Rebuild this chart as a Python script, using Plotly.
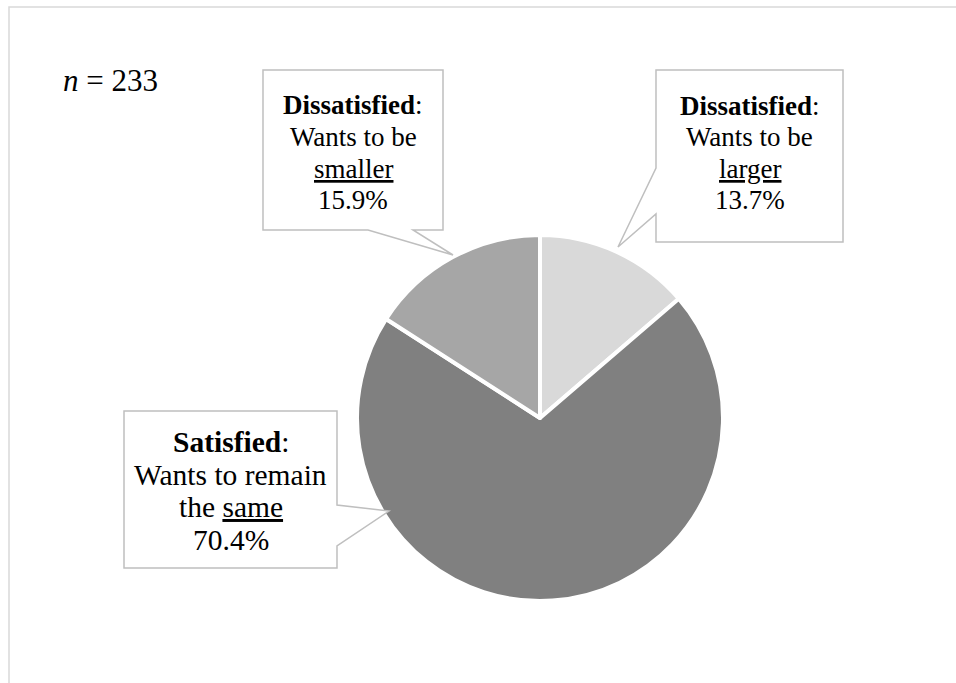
import plotly.graph_objects as go

W, H = 956, 683

# ---- data ----
labels = ["Wants to be larger", "Wants to remain the same", "Wants to be smaller"]
values = [13.7, 70.4, 15.9]
colors = ["#d9d9d9", "#808080", "#a6a6a6"]
n_total = 233

callout_larger = ["<b>Dissatisfied</b>:", "Wants to be", "<u>larger</u>", "13.7%"]
callout_smaller = ["<b>Dissatisfied</b>:", "Wants to be", "<u>smaller</u>", "15.9%"]
callout_same = ["<b>Satisfied</b>:", "Wants to remain", "the <u>same</u>", "70.4%"]


def X(px):
    return px / W


def Y(py):
    return 1 - py / H


FONT = "Liberation Serif"

fig = go.Figure()

# pie geometry (pixels)
cx, cy, r = 540, 418, 183
fig.add_trace(go.Pie(
    labels=labels, values=values, sort=False, direction="clockwise", rotation=0,
    marker=dict(colors=colors, line=dict(color="white", width=4)),
    textinfo="none", hoverinfo="label+percent", showlegend=False,
    domain=dict(x=[X(cx - r), X(cx + r)], y=[Y(cy + r), Y(cy - r)]),
))

shapes = []
# outer chart frame
shapes.append(dict(type="rect", xref="paper", yref="paper",
                   x0=X(9), y0=Y(7), x1=X(W + 20), y1=Y(H + 20),
                   line=dict(color="#d9d9d9", width=1.5), fillcolor="rgba(0,0,0,0)"))


def path(points):
    s = "M " + " L ".join(f"{X(px):.5f},{Y(py):.5f}" for px, py in points) + " Z"
    return s


# callout boxes
boxes = [
    # smaller: box 263-443 x 70-230, pointer from bottom edge
    [(263, 70), (443, 70), (443, 230), (413, 230), (453, 255), (368, 230), (263, 230)],
    # larger: box 656-843 x 70-242, pointer from left edge
    [(656, 70), (843, 70), (843, 242), (656, 242), (656, 214), (618, 247), (656, 168)],
    # same: box 124-337 x 411-568, pointer from right edge
    [(124, 411), (337, 411), (337, 505), (389, 511), (337, 546), (337, 568), (124, 568)],
]
for b in boxes:
    shapes.append(dict(type="path", xref="paper", yref="paper", path=path(b),
                       line=dict(color="#bfbfbf", width=1.5), fillcolor="white",
                       layer="above"))

annotations = []


def add_lines(lines, xc, centers, fs):
    for t, yc in zip(lines, centers):
        annotations.append(dict(
            x=X(xc), y=Y(yc), xref="paper", yref="paper", text=t,
            showarrow=False, xanchor="center", yanchor="middle",
            font=dict(family=FONT, size=fs, color="black")))


add_lines(callout_smaller, 353, [105, 137, 169, 200], 27)
add_lines(callout_larger, 749.5, [106, 137, 169, 200], 27)
add_lines(callout_same, 230.5, [442, 475, 507, 540], 29.5)

annotations.append(dict(
    x=X(61), y=Y(80), xref="paper", yref="paper",
    text=f"<i>n</i> = {n_total}", showarrow=False, xanchor="left", yanchor="middle",
    font=dict(family=FONT, size=31, color="black")))

fig.update_layout(
    width=W, height=H, margin=dict(l=0, r=0, t=0, b=0),
    paper_bgcolor="white", plot_bgcolor="white",
    font=dict(family=FONT),
    shapes=shapes, annotations=annotations, showlegend=False,
)

fig.write_html("out.html", config={"displayModeBar": False})
